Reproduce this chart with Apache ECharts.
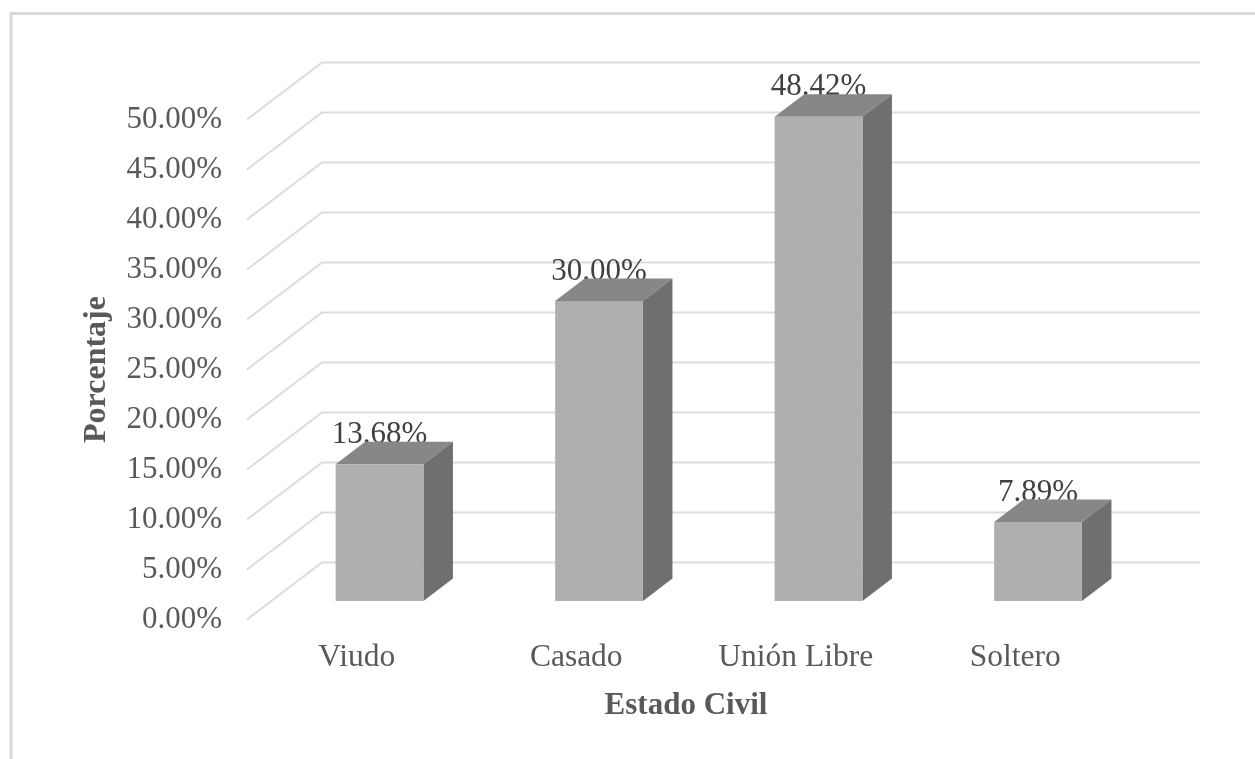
<!DOCTYPE html>
<html>
<head>
<meta charset="utf-8">
<style>
html,body{margin:0;padding:0;background:#fff;overflow:hidden}
#c{width:1255px;height:759px;filter:blur(0.45px)}
</style>
<script src="https://cdn.jsdelivr.net/npm/echarts@6/dist/echarts.min.js"></script>
</head>
<body>
<div id="c"></div>
<script>
const categories = ['Viudo', 'Casado', 'Unión Libre', 'Soltero'];
const values = [13.68, 30.00, 48.42, 7.89];
const yTicks = [0, 5, 10, 15, 20, 25, 30, 35, 40, 45, 50];
const xTitle = 'Estado Civil';
const yTitle = 'Porcentaje';

// Oblique projection constants of the 3D look
const WALL_DX = 75, WALL_DY = -57;      // depth of the whole plot
const BAR_DX = 29.5, BAR_DY = -22.5;    // depth of a bar
const BAR_SHIFT_X = 22.8, BAR_SHIFT_Y = -18.5; // bar set back from the front edge
const FONT = '"Liberation Serif","Times New Roman",serif';

const chart = echarts.init(document.getElementById('c'), null, {renderer: 'canvas'});

function renderGrid(params, api) {
  const v = api.value(0);
  const p = api.coord([0, v]);
  const cs = params.coordSys;
  const x0 = cs.x, y0 = p[1];
  return {
    type: 'polyline',
    shape: {points: [[x0, y0], [x0 + WALL_DX, y0 + WALL_DY], [cs.x + cs.width + WALL_DX, y0 + WALL_DY]]},
    style: {fill: null, stroke: '#dcdcdc', lineWidth: 2}
  };
}

function renderBar(params, api) {
  const i = api.value(0), v = api.value(1);
  const w = api.size([1, 0])[0] * 0.4;
  const top = api.coord([i, v]), base = api.coord([i, 0]);
  const xl = top[0] - w / 2 + BAR_SHIFT_X, xr = xl + w;
  const yt = top[1] + BAR_SHIFT_Y, yb = base[1] + BAR_SHIFT_Y;
  const dx = BAR_DX, dy = BAR_DY;
  return {
    type: 'group',
    children: [
      {type: 'text', style: {
        x: (xl + xr) / 2, y: yt - 29.5, text: v.toFixed(2) + '%',
        fill: '#404040', font: '31px ' + FONT, align: 'center', verticalAlign: 'middle'}},
      {type: 'polygon', shape: {points: [[xl, yt], [xr, yt], [xr + dx, yt + dy], [xl + dx, yt + dy]]},
        style: {fill: '#878787'}},
      {type: 'polygon', shape: {points: [[xr, yt], [xr + dx, yt + dy], [xr + dx, yb + dy], [xr, yb]]},
        style: {fill: '#6f6f6f'}},
      {type: 'rect', shape: {x: xl, y: yt, width: w, height: yb - yt},
        style: {fill: '#afafaf'}}
    ]
  };
}

chart.setOption({
  animation: false,
  backgroundColor: '#fff',
  graphic: [{
    type: 'polyline', silent: true, z: -10,
    shape: {points: [[11, 759], [11, 13.5], [1255, 13.5]]},
    style: {fill: null, stroke: '#d9d9d9', lineWidth: 3}
  }],
  grid: {left: 247, top: 119.5, width: 878, height: 500, containLabel: false},
  xAxis: {
    type: 'category', data: categories,
    axisLine: {show: false}, axisTick: {show: false}, splitLine: {show: false},
    axisLabel: {color: '#595959', fontFamily: FONT, fontSize: 31.5, margin: 22},
    name: xTitle, nameLocation: 'middle', nameGap: 71,
    nameTextStyle: {color: '#595959', fontFamily: FONT, fontSize: 31, fontWeight: 'bold'}
  },
  yAxis: {
    type: 'value', min: 0, max: 50, interval: 5,
    axisLine: {show: false}, axisTick: {show: false}, splitLine: {show: false},
    axisLabel: {color: '#595959', fontFamily: FONT, fontSize: 31, margin: 25,
      formatter: v => v.toFixed(2) + '%'},
    name: yTitle, nameLocation: 'middle', nameGap: 134,
    nameTextStyle: {color: '#595959', fontFamily: FONT, fontSize: 32, fontWeight: 'bold'}
  },
  series: [
    {type: 'custom', clip: false, silent: true, z: 1, renderItem: renderGrid,
      encode: {x: 1, y: 0}, data: yTicks.map(t => [t, 0])},
    {type: 'custom', clip: false, silent: true, z: 2, renderItem: renderBar,
      encode: {x: 0, y: 1}, data: values.map((v, i) => [i, v])}
  ]
});
</script>
</body>
</html>
